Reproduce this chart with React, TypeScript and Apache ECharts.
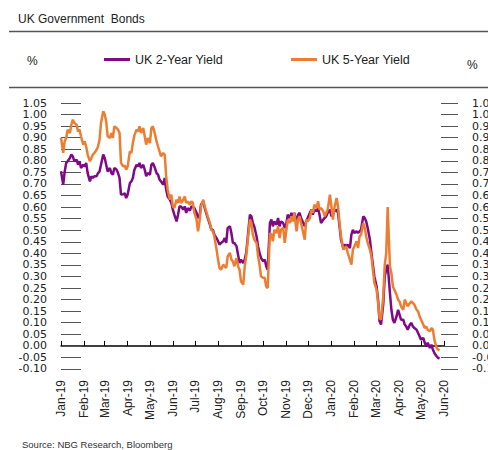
import React, { useEffect, useRef } from "react";
import * as echarts from "echarts";

const seriesNames = ["UK 2-Year Yield", "UK 5-Year Yield"];

const dates = [
  "2019-01-01","2019-01-04","2019-01-06","2019-01-08","2019-01-10","2019-01-13","2019-01-15","2019-01-17",
  "2019-01-19","2019-01-22","2019-01-24","2019-01-26","2019-01-28","2019-01-31","2019-02-02","2019-02-04",
  "2019-02-06","2019-02-09","2019-02-11","2019-02-13","2019-02-15","2019-02-18","2019-02-20","2019-02-22",
  "2019-02-24","2019-02-27","2019-03-01","2019-03-03","2019-03-05","2019-03-08","2019-03-10","2019-03-12",
  "2019-03-14","2019-03-17","2019-03-19","2019-03-21","2019-03-23","2019-03-26","2019-03-28","2019-03-30",
  "2019-04-01","2019-04-04","2019-04-06","2019-04-08","2019-04-10","2019-04-13","2019-04-15","2019-04-17",
  "2019-04-19","2019-04-22","2019-04-24","2019-04-26","2019-04-28","2019-05-01","2019-05-03","2019-05-05",
  "2019-05-07","2019-05-10","2019-05-12","2019-05-14","2019-05-16","2019-05-19","2019-05-21","2019-05-23",
  "2019-05-25","2019-05-28","2019-05-30","2019-06-01","2019-06-03","2019-06-06","2019-06-08","2019-06-10",
  "2019-06-12","2019-06-15","2019-06-17","2019-06-19","2019-06-21","2019-06-24","2019-06-26","2019-06-28",
  "2019-06-30","2019-07-03","2019-07-05","2019-07-07","2019-07-09","2019-07-12","2019-07-14","2019-07-16",
  "2019-07-18","2019-07-21","2019-07-23","2019-07-25","2019-07-27","2019-07-30","2019-08-01","2019-08-03",
  "2019-08-05","2019-08-08","2019-08-10","2019-08-12","2019-08-14","2019-08-17","2019-08-19","2019-08-21",
  "2019-08-23","2019-08-26","2019-08-28","2019-08-30","2019-09-01","2019-09-04","2019-09-06","2019-09-08",
  "2019-09-10","2019-09-13","2019-09-15","2019-09-17","2019-09-19","2019-09-22","2019-09-24","2019-09-26",
  "2019-09-28","2019-10-01","2019-10-03","2019-10-05","2019-10-07","2019-10-10","2019-10-12","2019-10-14",
  "2019-10-16","2019-10-19","2019-10-21","2019-10-23","2019-10-25","2019-10-28","2019-10-30","2019-11-01",
  "2019-11-03","2019-11-06","2019-11-08","2019-11-10","2019-11-12","2019-11-15","2019-11-17","2019-11-19",
  "2019-11-21","2019-11-24","2019-11-26","2019-11-28","2019-11-30","2019-12-03","2019-12-05","2019-12-07",
  "2019-12-09","2019-12-12","2019-12-14","2019-12-16","2019-12-18","2019-12-21","2019-12-23","2019-12-25",
  "2019-12-27","2019-12-30","2020-01-01","2020-01-03","2020-01-05","2020-01-08","2020-01-10","2020-01-12",
  "2020-01-14","2020-01-17","2020-01-19","2020-01-21","2020-01-23","2020-01-26","2020-01-28","2020-01-30",
  "2020-02-01","2020-02-04","2020-02-06","2020-02-08","2020-02-10","2020-02-13","2020-02-15","2020-02-17",
  "2020-02-19","2020-02-22","2020-02-24","2020-02-26","2020-02-28","2020-03-02","2020-03-04","2020-03-06",
  "2020-03-08","2020-03-11","2020-03-13","2020-03-15","2020-03-17","2020-03-20","2020-03-22","2020-03-24",
  "2020-03-26","2020-03-29","2020-03-31","2020-04-02","2020-04-04","2020-04-07","2020-04-09","2020-04-11",
  "2020-04-13","2020-04-16","2020-04-18","2020-04-20","2020-04-22","2020-04-25","2020-04-27","2020-04-29",
  "2020-05-01","2020-05-04","2020-05-06","2020-05-08","2020-05-10","2020-05-13","2020-05-15","2020-05-17",
  "2020-05-19","2020-05-22","2020-05-24","2020-05-26"
];

const uk2y = [
  0.755,0.697,0.754,0.791,0.798,0.812,0.827,0.819,
  0.798,0.805,0.783,0.798,0.769,0.783,0.776,0.791,
  0.747,0.711,0.733,0.726,0.733,0.733,0.747,0.754,
  0.783,0.827,0.812,0.783,0.754,0.769,0.747,0.740,
  0.769,0.762,0.747,0.726,0.654,0.655,0.660,0.639,
  0.654,0.704,0.711,0.726,0.760,0.783,0.776,0.791,
  0.769,0.783,0.762,0.733,0.747,0.740,0.783,0.791,
  0.776,0.747,0.740,0.719,0.711,0.697,0.726,0.675,
  0.646,0.632,0.618,0.589,0.567,0.538,0.567,0.603,
  0.603,0.589,0.603,0.575,0.596,0.585,0.603,0.600,
  0.596,0.575,0.553,0.560,0.610,0.625,0.596,0.575,
  0.553,0.524,0.502,0.502,0.481,0.466,0.452,0.438,
  0.445,0.452,0.466,0.445,0.510,0.517,0.488,0.445,
  0.445,0.430,0.394,0.358,0.373,0.358,0.373,0.402,
  0.466,0.567,0.560,0.531,0.515,0.473,0.430,0.402,
  0.380,0.365,0.373,0.344,0.329,0.531,0.546,0.517,
  0.538,0.524,0.553,0.517,0.538,0.531,0.510,0.524,
  0.567,0.553,0.575,0.553,0.575,0.531,0.567,0.575,
  0.553,0.531,0.517,0.538,0.553,0.575,0.589,0.567,
  0.589,0.582,0.596,0.567,0.531,0.546,0.553,0.560,
  0.575,0.589,0.560,0.567,0.582,0.589,0.575,0.517,
  0.459,0.423,0.438,0.430,0.438,0.423,0.481,0.502,
  0.488,0.495,0.488,0.495,0.502,0.560,0.553,0.538,
  0.510,0.459,0.402,0.351,0.300,0.257,0.200,0.106,
  0.092,0.180,0.300,0.329,0.351,0.229,0.156,0.113,
  0.099,0.128,0.156,0.135,0.113,0.113,0.092,0.084,
  0.070,0.092,0.099,0.084,0.077,0.070,0.056,0.041,
  0.027,0.034,0.013,-0.002,0.013,-0.009,0.005,-0.016,
  -0.031,-0.045,-0.052,-0.055
];

const uk5y = [
  0.900,0.835,0.885,0.899,0.935,0.920,0.956,0.978,
  0.964,0.956,0.927,0.935,0.906,0.870,0.884,0.862,
  0.827,0.798,0.812,0.827,0.834,0.848,0.862,0.891,
  0.964,1.014,1.000,0.971,0.906,0.899,0.920,0.899,
  0.949,0.942,0.935,0.920,0.791,0.775,0.780,0.762,
  0.776,0.841,0.834,0.877,0.910,0.935,0.927,0.949,
  0.920,0.942,0.906,0.870,0.899,0.877,0.942,0.949,
  0.927,0.884,0.862,0.841,0.819,0.834,0.827,0.733,
  0.675,0.632,0.654,0.603,0.596,0.632,0.618,0.646,
  0.618,0.632,0.646,0.618,0.625,0.610,0.625,0.618,
  0.575,0.546,0.495,0.538,0.603,0.632,0.603,0.582,
  0.560,0.531,0.502,0.495,0.473,0.416,0.373,0.337,
  0.329,0.351,0.344,0.337,0.387,0.402,0.373,0.365,
  0.344,0.380,0.344,0.329,0.279,0.265,0.344,0.387,
  0.452,0.546,0.531,0.480,0.459,0.445,0.387,0.351,
  0.300,0.294,0.294,0.257,0.250,0.488,0.481,0.452,
  0.502,0.488,0.517,0.466,0.502,0.510,0.445,0.495,
  0.546,0.531,0.560,0.538,0.575,0.495,0.546,0.560,
  0.531,0.488,0.459,0.546,0.538,0.553,0.589,0.575,
  0.610,0.596,0.625,0.589,0.596,0.582,0.560,0.575,
  0.589,0.654,0.603,0.546,0.596,0.639,0.603,0.531,
  0.473,0.416,0.423,0.430,0.402,0.373,0.351,0.416,
  0.430,0.452,0.423,0.473,0.481,0.531,0.510,0.473,
  0.445,0.416,0.387,0.329,0.272,0.243,0.185,0.121,
  0.113,0.214,0.350,0.400,0.600,0.344,0.315,0.257,
  0.243,0.221,0.200,0.192,0.171,0.156,0.200,0.185,
  0.171,0.185,0.192,0.185,0.178,0.156,0.149,0.128,
  0.113,0.092,0.077,0.084,0.070,0.063,0.077,0.070,
  0.027,-0.009,-0.016,-0.020
];

const monthTicks = [
  "2019-01-01","2019-02-01","2019-03-01","2019-04-01","2019-05-01","2019-06-01",
  "2019-07-01","2019-08-01","2019-09-01","2019-10-01","2019-11-01","2019-12-01",
  "2020-01-01","2020-02-01","2020-03-01","2020-04-01","2020-05-01","2020-06-01"
];
const monthNames = ["Jan","Feb","Mar","Apr","May","Jun","Jul","Aug","Sep","Oct","Nov","Dec"];

const yTicks = [
  -0.10, -0.05, 0.00, 0.05, 0.10, 0.15, 0.20, 0.25, 0.30, 0.35, 0.40, 0.45,
  0.50, 0.55, 0.60, 0.65, 0.70, 0.75, 0.80, 0.85, 0.90, 0.95, 1.00, 1.05
];
const yMin = -0.1001;
const yMax = 1.0501;

const FONT = "'Liberation Sans', Arial, sans-serif";
const NUM_FONT = "'DejaVu Sans', sans-serif";

function toTs(s: string): number {
  const [y, m, d] = s.split("-").map(Number);
  return Date.UTC(y, m - 1, d);
}

export default function App() {
  const ref = useRef<HTMLDivElement>(null);
  useEffect(() => {
    if (!ref.current) return;
    const chart = echarts.init(ref.current, null, { renderer: "svg" });
    const tickTs = monthTicks.map(toTs);
    const yLabel = {
      customValues: yTicks,
      showMinLabel: true,
      showMaxLabel: true,
      formatter: (v: number) => v.toFixed(2),
      fontSize: 11,
      lineHeight: 11,
      color: "#222",
      fontFamily: NUM_FONT,
    };
    chart.setOption({
      animation: false,
      backgroundColor: "#fff",
      grid: { left: 61, right: 44, top: 103, bottom: 81, containLabel: false, outerBoundsMode: "none" },
      legend: [
        {
          data: [seriesNames[0]], left: 104, top: 53, padding: 0, icon: "rect",
          itemWidth: 26, itemHeight: 3, itemGap: 4,
          textStyle: { fontSize: 12.5, color: "#222", fontFamily: FONT },
        },
        {
          data: [seriesNames[1]], left: 291, top: 53, padding: 0, icon: "rect",
          itemWidth: 26, itemHeight: 3, itemGap: 4,
          textStyle: { fontSize: 12.5, color: "#222", fontFamily: FONT },
        },
      ],
      xAxis: {
        type: "value",
        min: tickTs[0],
        max: tickTs[tickTs.length - 1],
        axisLine: { onZero: true, lineStyle: { color: "#000", width: 1.5 } },
        axisTick: { show: true, inside: true, length: 5, customValues: tickTs, lineStyle: { color: "#000" } },
        axisLabel: {
          customValues: tickTs,
          showMinLabel: true,
          showMaxLabel: true,
          rotate: 90,
          margin: 11,
          fontSize: 12,
          color: "#222",
          fontFamily: FONT,
          formatter: (v: number) => {
            const d = new Date(v);
            return monthNames[d.getUTCMonth()] + "-" + String(d.getUTCFullYear()).slice(2);
          },
        },
        splitLine: { show: false },
      },
      yAxis: [
        {
          type: "value", position: "left", min: yMin, max: yMax,
          axisLine: { show: false },
          axisTick: { show: true, inside: true, length: 20, customValues: yTicks, lineStyle: { color: "#555" } },
          axisLabel: { ...yLabel, margin: 14 },
          splitLine: { show: false },
        },
        {
          type: "value", position: "right", offset: -3, min: yMin, max: yMax,
          axisLine: { show: false },
          axisTick: { show: true, inside: false, length: 17, customValues: yTicks, lineStyle: { color: "#555" } },
          axisLabel: { ...yLabel, margin: 31, align: "left" },
          splitLine: { show: false },
        },
      ],
      series: [
        {
          name: seriesNames[0], type: "line", showSymbol: false,
          lineStyle: { width: 2.5, color: "#7F0A86" }, itemStyle: { color: "#7F0A86" },
          data: dates.map((d, i) => [toTs(d), uk2y[i]]),
        },
        {
          name: seriesNames[1], type: "line", showSymbol: false,
          lineStyle: { width: 2.5, color: "#ED7D31" }, itemStyle: { color: "#ED7D31" },
          data: dates.map((d, i) => [toTs(d), uk5y[i]]),
        },
      ],
      graphic: [
        { type: "text", left: 18, top: 13, style: { text: "UK Government  Bonds", fontSize: 12, fill: "#222", fontFamily: FONT } },
        { type: "line", shape: { x1: 9, y1: 31.5, x2: 488, y2: 31.5 }, style: { stroke: "#555", lineWidth: 1.5 } },
        { type: "line", shape: { x1: 9, y1: 87.5, x2: 488, y2: 87.5 }, style: { stroke: "#555", lineWidth: 1.5 } },
        { type: "text", left: 27, top: 55, style: { text: "%", fontSize: 12, fill: "#222", fontFamily: FONT } },
        { type: "text", left: 467, top: 59, style: { text: "%", fontSize: 12, fill: "#222", fontFamily: FONT } },
        { type: "text", left: 22, top: 439, style: { text: "Source: NBG Research, Bloomberg", fontSize: 9.5, fill: "#333", fontFamily: FONT } },
      ],
    });
    return () => chart.dispose();
  }, []);
  return (
    <div
      ref={ref}
      style={{ position: "fixed", left: 0, top: 0, width: 488, height: 450, background: "#fff" }}
    />
  );
}
